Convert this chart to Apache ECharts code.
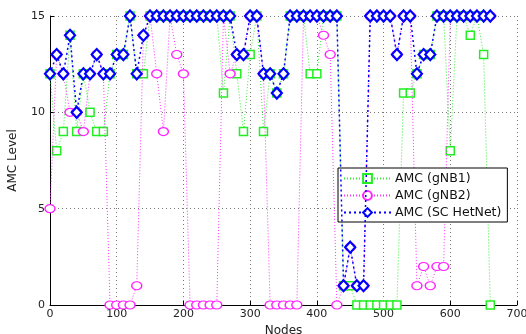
<!DOCTYPE html>
<html>
<head>
<meta charset="utf-8">
<script src="https://cdn.jsdelivr.net/npm/echarts@6/dist/echarts.min.js"></script>
<style>html,body{margin:0;padding:0;background:#fff}#c{width:526px;height:334px}</style>
</head>
<body>
<div id="c"></div>
<script>
const nodes = [0,10,20,30,40,50,60,70,80,90,100,110,120,130,140,150,160,170,180,190,200,210,220,230,240,250,260,270,280,290,300,310,320,330,340,350,360,370,380,390,400,410,420,430,440,450,460,470,480,490,500,510,520,530,540,550,560,570,580,590,600,610,620,630,640,650,660];
const amcGnb1 = [12,8,9,14,9,12,10,9,9,12,13,13,15,12,12,15,15,15,15,15,15,15,15,15,15,15,11,15,12,9,13,15,9,12,11,12,15,15,15,12,12,15,15,15,1,1,0,0,0,0,0,0,0,11,11,12,13,13,15,15,8,15,15,14,15,13,0];
const amcGnb2 = [5,13,12,10,10,9,12,13,12,0,0,0,0,1,14,15,12,9,15,13,12,0,0,0,0,0,15,12,13,13,15,15,12,0,0,0,0,0,15,15,15,14,13,0,1,3,1,1,15,15,15,15,13,15,15,1,2,1,2,2,15,15,15,15,15,15,15];
const amcHetNet = [12,13,12,14,10,12,12,13,12,12,13,13,15,12,14,15,15,15,15,15,15,15,15,15,15,15,15,15,13,13,15,15,12,12,11,12,15,15,15,15,15,15,15,15,1,3,1,1,15,15,15,15,13,15,15,12,13,13,15,15,15,15,15,15,15,15,15];
const xTicks = [0,100,200,300,400,500,600,700];
const yTicks = [0,5,10,15];
const seriesNames = ['AMC (gNB1)','AMC (gNB2)','AMC (SC HetNet)'];

const pairs = v => nodes.map((n,i)=>[n,v[i]]);
const font = 'DejaVu Sans, sans-serif';
const chart = echarts.init(document.getElementById('c'), null, {renderer:'canvas'});
chart.setOption({
  animation:false,
  backgroundColor:'#fff',
  grid:{left:50,right:9,top:16,bottom:29,containLabel:false,outerBoundsMode:'none'},
  xAxis:{type:'value',min:xTicks[0],max:xTicks[xTicks.length-1],interval:100,
    name:'Nodes',nameLocation:'middle',nameGap:14,
    nameTextStyle:{fontFamily:font,fontSize:12,color:'#222'},
    axisLine:{lineStyle:{color:'#000',width:1}},
    axisTick:{inside:true,length:4,lineStyle:{color:'#000'}},
    axisLabel:{fontFamily:font,fontSize:11,color:'#222',margin:4},
    splitLine:{show:true,lineStyle:{color:'#777',type:[1,3],width:1}}},
  yAxis:{type:'value',min:yTicks[0],max:yTicks[yTicks.length-1],interval:5,
    name:'AMC Level',nameLocation:'middle',nameGap:31,
    nameTextStyle:{fontFamily:font,fontSize:12,color:'#222'},
    axisLine:{show:true,lineStyle:{color:'#000',width:1}},
    axisTick:{show:true,inside:true,length:4,lineStyle:{color:'#000'}},
    axisLabel:{fontFamily:font,fontSize:11,color:'#222',margin:5},
    splitLine:{show:true,lineStyle:{color:'#777',type:[1,3],width:1}}},
  legend:{orient:'vertical',left:338,top:168,width:174,
    backgroundColor:'#fff',borderColor:'#000',borderWidth:1,
    padding:[4,6,3,5],itemGap:4,itemWidth:47,itemHeight:11,
    textStyle:{fontFamily:font,fontSize:12.5,color:'#111',padding:[0,0,0,-1]},
    data:seriesNames},
  series:[
    {name:seriesNames[0],type:'line',data:pairs(amcGnb1),
      symbol:'rect',symbolSize:8,showAllSymbol:true,
      lineStyle:{color:'#33ee33',width:1,type:[1,2]},
      itemStyle:{color:'#fff',borderColor:'#22ee22',borderWidth:1.5},z:2},
    {name:seriesNames[1],type:'line',data:pairs(amcGnb2),
      symbol:'circle',symbolSize:[10,8],showAllSymbol:true,
      lineStyle:{color:'#ff33ff',width:1,type:[1,2]},
      itemStyle:{color:'#fff',borderColor:'#ff22ff',borderWidth:1.3},z:3},
    {name:seriesNames[2],type:'line',data:pairs(amcHetNet),
      symbol:'diamond',symbolSize:[10,11],showAllSymbol:true,
      lineStyle:{color:'#0000ff',width:1.5,type:[2,3]},
      itemStyle:{color:'#fff',borderColor:'#0000ff',borderWidth:2.2},z:4}
  ]
});
</script>
</body>
</html>
